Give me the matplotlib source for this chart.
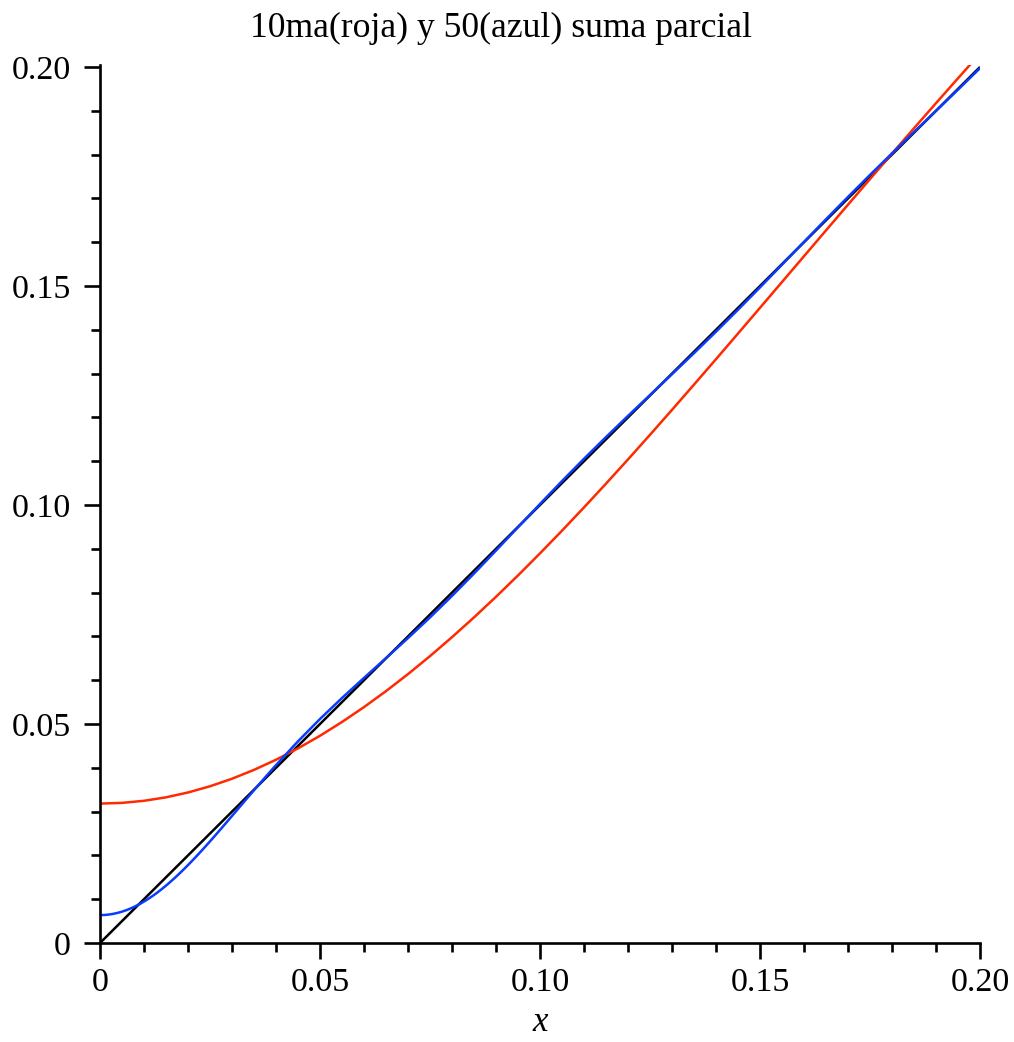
import matplotlib
matplotlib.use("Agg")
import matplotlib.pyplot as plt
from matplotlib.ticker import FixedLocator, MultipleLocator

plt.rcParams['font.family'] = ['Liberation Serif', 'DejaVu Serif']

# Partial sums of the Fourier series of |x| near the origin
# red: 10th partial sum
x_red = [0.000, 0.005, 0.010, 0.015, 0.020, 0.025, 0.030, 0.035, 0.040,
         0.045, 0.050, 0.055, 0.060, 0.065, 0.070, 0.075, 0.080, 0.085,
         0.090, 0.095, 0.100, 0.105, 0.110, 0.115, 0.120, 0.125, 0.130,
         0.135, 0.140, 0.145, 0.150, 0.155, 0.160, 0.165, 0.170, 0.175,
         0.180, 0.185, 0.190, 0.195, 0.200]
y_red = [0.031831, 0.031991, 0.032467, 0.033260, 0.034366, 0.035782,
         0.037504, 0.039525, 0.041838, 0.044437, 0.047313, 0.050457,
         0.053858, 0.057507, 0.061392, 0.065501, 0.069821, 0.074340,
         0.079042, 0.083918, 0.088957, 0.094138, 0.099449, 0.104877,
         0.110408, 0.116029, 0.121726, 0.127487, 0.133297, 0.139146,
         0.145021, 0.150911, 0.156805, 0.162694, 0.168568, 0.174417,
         0.180235, 0.186014, 0.191747, 0.197429, 0.203055]

# blue: 50th partial sum
x_blue = [0.000, 0.001, 0.002, 0.003, 0.004, 0.005, 0.006, 0.007, 0.008,
          0.009, 0.010, 0.011, 0.012, 0.013, 0.014, 0.015, 0.016, 0.017,
          0.018, 0.019, 0.020, 0.021, 0.022, 0.023, 0.024, 0.025, 0.026,
          0.027, 0.028, 0.029, 0.030, 0.031, 0.032, 0.033, 0.034, 0.035,
          0.036, 0.037, 0.038, 0.039, 0.040,
          0.045, 0.050, 0.055, 0.060, 0.065, 0.070, 0.075, 0.080, 0.085,
          0.090, 0.095, 0.100, 0.105, 0.110, 0.115, 0.120, 0.125, 0.130,
          0.135, 0.140, 0.145, 0.150, 0.155, 0.160, 0.165, 0.170, 0.175,
          0.180, 0.185, 0.190, 0.195, 0.200]
y_blue = [0.006366, 0.006398, 0.006493, 0.006652, 0.006873, 0.007156,
          0.007501, 0.007905, 0.008368, 0.008887, 0.009463, 0.010091,
          0.010772, 0.011501, 0.012278, 0.013100, 0.013964, 0.014868,
          0.015808, 0.016784, 0.017791, 0.018828, 0.019890, 0.020975,
          0.022082, 0.023206, 0.024345, 0.025497, 0.026659, 0.027829,
          0.029004, 0.030182, 0.031361, 0.032539, 0.033714, 0.034883,
          0.036047, 0.037203, 0.038349, 0.039486, 0.040611,
          0.046046, 0.051142, 0.055938, 0.060530, 0.065050, 0.069620,
          0.074335, 0.079246, 0.084349, 0.089603, 0.094926, 0.100236,
          0.105461, 0.110555, 0.115508, 0.120343, 0.125108, 0.129864,
          0.134671, 0.139570, 0.144580, 0.149690, 0.154868, 0.160067,
          0.165238, 0.170341, 0.175357, 0.180286, 0.185150, 0.189984,
          0.194831, 0.199726]

# black: the function itself
x_line = [0.0, 0.2]
y_line = [0.0, 0.2]

major_ticks = [0.0, 0.05, 0.10, 0.15, 0.20]
tick_labels = ['0', '0.05', '0.10', '0.15', '0.20']

W, H = 1014, 1042
fig = plt.figure(figsize=(W / 100, H / 100), dpi=100)
y_top = 0.2005
ax = fig.add_axes([100 / W, (H - 943) / H, 880 / W, y_top * 4380 / H])

ax.plot(x_line, y_line, color='black', lw=1.8, solid_capstyle='butt')
ax.plot(x_red, y_red, color='#ff2a00', lw=1.8)
ax.plot(x_blue, y_blue, color='#0a3cff', lw=1.8)

ax.set_xlim(0, 0.2)
ax.set_ylim(0, y_top)

for side in ('top', 'right'):
    ax.spines[side].set_visible(False)
for side in ('left', 'bottom'):
    ax.spines[side].set_linewidth(1.9)

for axis in (ax.xaxis, ax.yaxis):
    axis.set_major_locator(FixedLocator(major_ticks))
    axis.set_minor_locator(MultipleLocator(0.01))
ax.set_xticklabels(tick_labels)
ax.set_yticklabels(tick_labels)
ax.tick_params(which='major', direction='out', length=11.5, width=1.9,
               labelsize=24.5)
ax.tick_params(axis='x', which='major', pad=6)
ax.tick_params(axis='y', which='major', pad=9.5)
ax.tick_params(which='minor', direction='out', length=6.5, width=1.9)

ax.set_xlabel('x', fontsize=25, style='italic', labelpad=6)
fig.text(501 / W, 1 - 37 / H, '10ma(roja) y 50(azul) suma parcial',
         ha='center', va='baseline', fontsize=25.7)

fig.savefig('out.png', dpi=100)
